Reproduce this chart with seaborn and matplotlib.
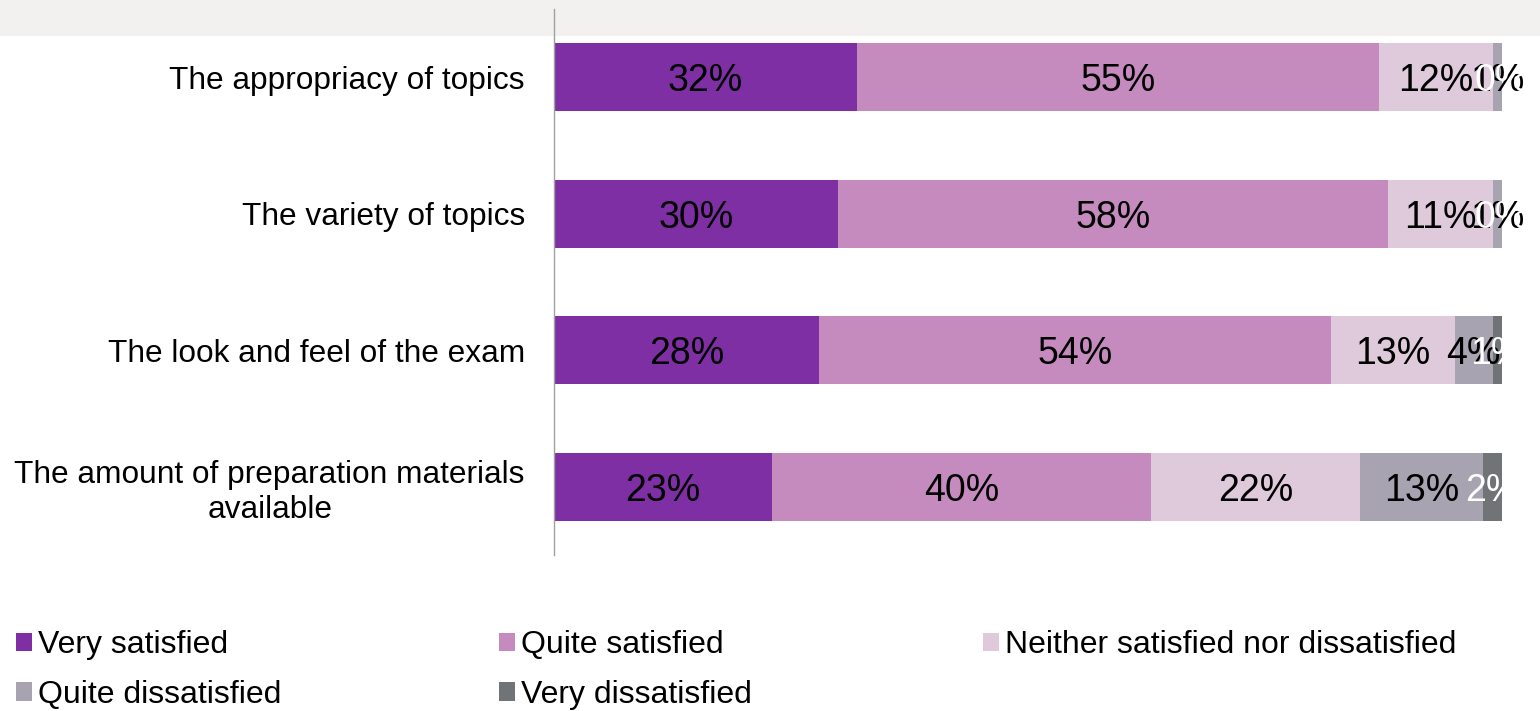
import matplotlib
matplotlib.use("Agg")
import matplotlib.pyplot as plt
import seaborn as sns
import pandas as pd
import numpy as np
from matplotlib.patches import Rectangle, Patch

categories = [
    "The appropriacy of topics",
    "The variety of topics",
    "The look and feel of the exam",
    "The amount of preparation materials\navailable",
]
series_names = [
    "Very satisfied",
    "Quite satisfied",
    "Neither satisfied nor dissatisfied",
    "Quite dissatisfied",
    "Very dissatisfied",
]
very_satisfied = [32, 30, 28, 23]
quite_satisfied = [55, 58, 54, 40]
neither = [12, 11, 13, 22]
quite_dissatisfied = [1, 1, 4, 13]
very_dissatisfied = [0, 0, 1, 2]

colors = ["#7f2fa4", "#c58bbf", "#dfcadb", "#a7a3b0", "#717477"]
label_colors = ["black", "black", "black", "black", "white"]

sns.set_theme(style="white")
plt.rcParams["font.family"] = ["Liberation Sans", "DejaVu Sans"]

values = np.array([very_satisfied, quite_satisfied, neither,
                   quite_dissatisfied, very_dissatisfied], dtype=float)
cum = np.cumsum(values, axis=0)

W, H = 1540, 711
fig = plt.figure(figsize=(W / 100, H / 100), dpi=100)
fig.patches.append(Rectangle((0, 1 - 36 / H), 1, 36 / H, transform=fig.transFigure,
                             facecolor="#f2f1ef", edgecolor="none", zorder=-5))
ax = fig.add_axes([554 / W, 1 - 555 / H, (1502 - 554) / W, (555 - 9) / H])
ax.patch.set_alpha(0)
ax.set_zorder(2)

# stacked bars: draw cumulative totals from the outermost layer inward
for i in range(len(series_names) - 1, -1, -1):
    df = pd.DataFrame({"cat": categories, "val": cum[i]})
    sns.barplot(data=df, y="cat", x="val", orient="h", color=colors[i],
                width=0.5, saturation=1, ax=ax, linewidth=0, errorbar=None)

# segment labels
for i in range(len(series_names)):
    for j in range(len(categories)):
        left = cum[i][j] - values[i][j]
        cx = left + values[i][j] / 2
        ax.text(cx, j, f"{int(values[i][j])}%", ha="center", va="center_baseline",
                fontsize=27, color=label_colors[i], zorder=10)

ax.set_xlim(0, 100)
ax.set_ylim(3.5, -0.5)
ax.set_xlabel("")
ax.set_ylabel("")
ax.set_xticks([])
for s in ["top", "right", "bottom"]:
    ax.spines[s].set_visible(False)
ax.spines["left"].set_color("#a0a0a0")
ax.spines["left"].set_linewidth(1)
ax.tick_params(axis="y", length=0, pad=21, labelsize=22.8, labelcolor="black")
for t in ax.get_yticklabels():
    t.set_multialignment("center")

# legend as three columns placed like the reference
handles = [Patch(facecolor=c, edgecolor="none") for c in colors]
cols = [[0, 3], [1, 4], [2]]
col_x = [16, 499, 983]
for idxs, x in zip(cols, col_x):
    fig.legend([handles[k] for k in idxs], [series_names[k] for k in idxs],
               loc="upper left", bbox_to_anchor=(x / W, 1 - 630 / H),
               frameon=False, fontsize=23, handlelength=0.5, handleheight=0.5,
               handletextpad=0.2, labelspacing=0.62, borderaxespad=0,
               borderpad=0, labelcolor="black")

fig.savefig("out.png", dpi=100)
